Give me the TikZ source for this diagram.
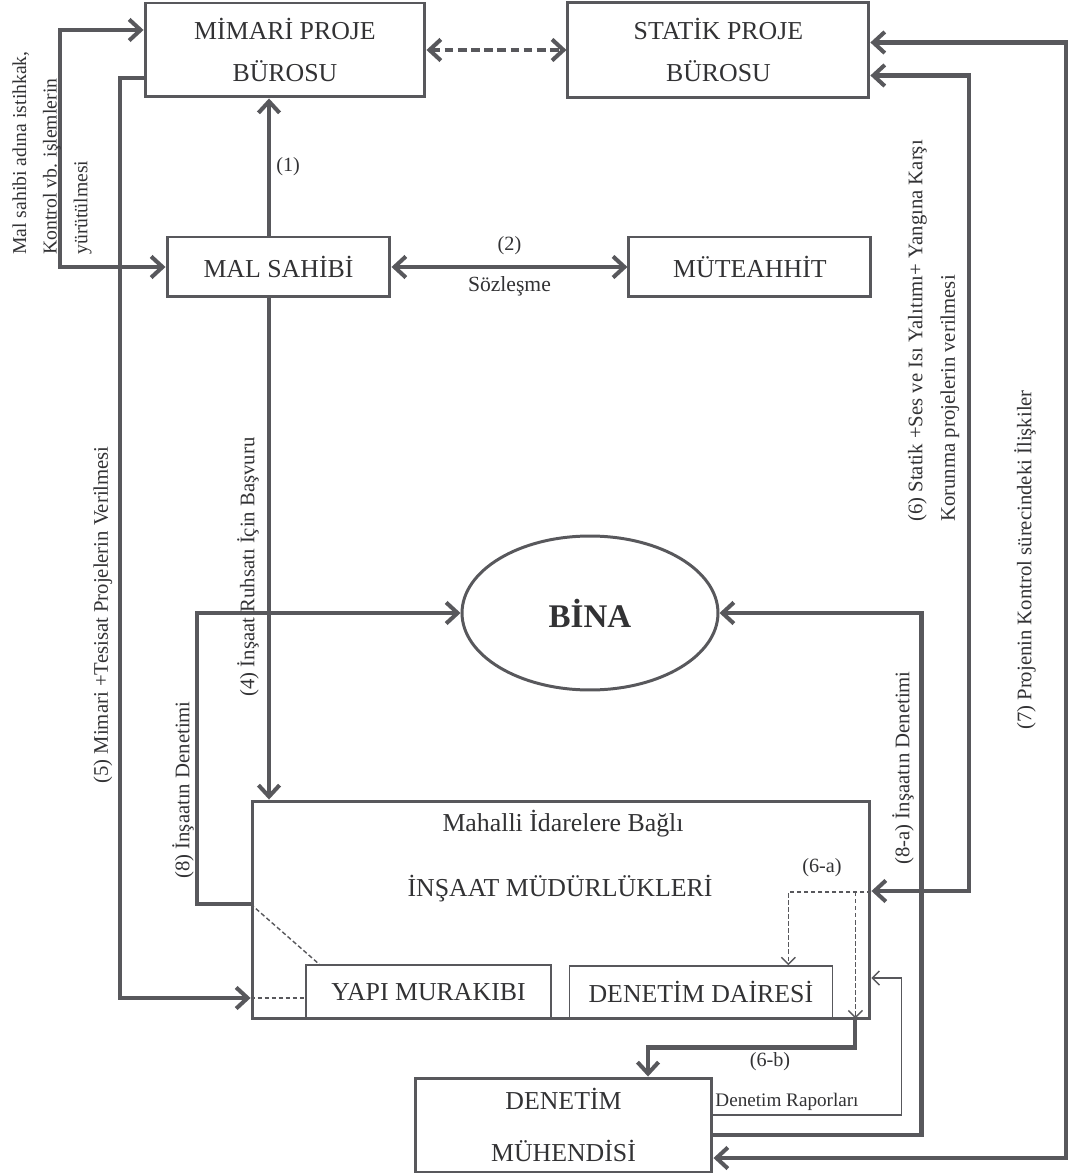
\documentclass[tikz,border=0pt]{standalone}
\usepackage{fontspec}
\setmainfont{Liberation Serif}
\definecolor{linegray}{RGB}{88,88,92}
\definecolor{textgray}{RGB}{50,50,52}
\usetikzlibrary{arrows.meta,positioning,calc,shapes.geometric}
\newcommand{\boxfont}{\fontsize{14.7pt}{23.5pt}\selectfont}
\newcommand{\lblfont}{\fontsize{11.8pt}{14pt}\selectfont}
\newcommand{\numfont}{\fontsize{11.5pt}{13pt}\selectfont}
\newcommand{\smallfont}{\fontsize{10.9pt}{13pt}\selectfont}

\begin{document}
\begin{tikzpicture}[x=0.02cm, y=-0.02cm,
      kutu/.style={draw=linegray, line width=1.7pt, align=center, font=\boxfont,
                   text=textgray, inner sep=0pt},
      ickutu/.style={draw=linegray, line width=0.8pt, align=center, font=\boxfont,
                     text=textgray, inner sep=0pt},
      yazi/.style={text=textgray, inner sep=0pt, align=center},
      vlbl/.style={rotate=90, font=\lblfont, text=textgray, inner sep=0pt},
      arr/.style={-{Straight Barb[length=6.5pt,width=12pt]}, line width=2.3pt, linegray},
      dblarr/.style={{Straight Barb[length=6.5pt,width=12pt]}-{Straight Barb[length=6.5pt,width=12pt]},
                     line width=2.3pt, linegray},
      dasharr/.style={dblarr, dash pattern=on 5pt off 2.5pt},
      thinarr/.style={-{Straight Barb[length=4pt,width=8pt]}, line width=0.8pt, linegray},
      thindash/.style={line width=0.8pt, linegray, dash pattern=on 2.5pt off 1.5pt},
      thindasharr/.style={thinarr, dash pattern=on 2.5pt off 1.5pt}
    ]
    \useasboundingbox (0,0) rectangle (1067,1175);
    \node[kutu, minimum width=5.6cm, minimum height=1.88cm] (mimari) at (285,50)
      {MİMARİ PROJE\\BÜROSU};
    \node[kutu, minimum width=6.02cm, minimum height=1.9cm, right=2.8cm of mimari] (statik)
      {STATİK PROJE\\BÜROSU};
    \node[kutu, minimum width=4.46cm, minimum height=1.2cm] (malsahibi) at (278.5,267)
      {MAL SAHİBİ};
    \node[kutu, minimum width=4.84cm, minimum height=1.2cm, right=4.72cm of malsahibi] (muteahhit)
      {MÜTEAHHİT};
    \node[kutu, ellipse, minimum width=5.12cm, minimum height=3.08cm,
          font=\fontsize{18.8pt}{22pt}\bfseries] (bina) at (590,613) {BİNA};
    \node[kutu, minimum width=12.36cm, minimum height=4.36cm] (mudur) at (561,910) {};
    \node[yazi, font=\boxfont] (mahalli) at ($(mudur.north)+(2,24)$) {Mahalli İdarelere Bağlı};
    \node[yazi, font=\boxfont] (insaat) at ($(mudur.north)+(-1,89)$) {İNŞAAT MÜDÜRLÜKLERİ};
    \node[ickutu, minimum width=4.9cm, minimum height=1.08cm] (yapi) at (428.5,992) {YAPI MURAKIBI};
    \node[ickutu, minimum width=5.26cm, minimum height=1.04cm, right=0.34cm of yapi] (daire)
      {DENETİM DAİRESİ};
    \node[kutu, minimum width=5.94cm, minimum height=1.88cm] (muhendis) at (563.5,1125)
      {DENETİM\\[6pt]MÜHENDİSİ};

    % ust kisim
    \coordinate (c1) at ($(malsahibi.north)+(-9.5,0)$);
    \draw[arr] (c1) -- (c1 |- mimari.south) node[midway, right=3pt, yazi, font=\numfont] (n1) {(1)};
    \draw[dasharr] (mimari.east) -- (mimari.east -| statik.west);
    \draw[dblarr] (malsahibi.east) -- (muteahhit.west)
      node[midway, above=6pt, yazi, font=\numfont] (n2) {(2)}
      node[midway, below=4pt, yazi, font=\fontsize{12.3pt}{14pt}\selectfont] (soz) {Sözleşme};
    \draw[dblarr] ($(mimari.west)+(0,-20)$) -- ++(-84,0) |- (malsahibi.west);
    \node[vlbl, anchor=west, align=left, font=\fontsize{11.2pt}{13.4pt}\selectfont] (lblmal) at (52,255)
      {Mal sahibi adına istihkak,\\[4pt]Kontrol vb. işlemlerin\\[4pt]yürütülmesi};

    % sol hatlar
    \draw[arr] ($(mimari.west)+(0,28)$) -- ++(-24,0) |- ($(mudur.west)+(0,88)$);
    \node[vlbl] (lbl5) at (103,615) {(5) Mimari +Tesisat Projelerin Verilmesi};
    \draw[thindash] ($(mudur.west)+(0,88)$) -- ($(yapi.west)+(0,6)$);
    \draw[thindash] ($(mudur.west)+(0,-6)$) -- ($(yapi.north west)+(14,0)$);
    \draw[arr] ($(mudur.west)+(0,-6)$) -- ++(-54,0) |- (bina.west);
    \node[vlbl] (lbl8) at (183,790) {(8) İnşaatın Denetimi};
    \coordinate (c4) at ($(malsahibi.south)+(-9.5,0)$);
    \draw[arr] (c4) -- (c4 |- mudur.north);
    \node[vlbl] (lbl4) at (248,567) {(4) İnşaat Ruhsatı İçin Başvuru};

    % sag hatlar
    \draw[dblarr] ($(statik.east)+(0,25.5)$) -- ++(99,0) |- ($(mudur.east)+(0,-19)$);
    \node[vlbl, anchor=west, align=left] (lbl6) at (933.5,522)
      {(6) Statik +Ses ve Isı Yalıtımı+ Yangına Karşı\\[4.5pt]Korunma projelerin verilmesi};
    \draw[dblarr] ($(statik.east)+(0,-7.5)$) -- ++(196,0) |- ($(muhendis.east)+(0,33)$);
    \node[vlbl] (lbl7) at (1025,560) {(7) Projenin Kontrol sürecindeki İlişkiler};
    \draw[arr] ($(muhendis.east)+(0,10)$) -- ++(208,0) |- (bina.east);
    \node[vlbl] (lbl8a) at (903,768) {(8-a) İnşaatın Denetimi};
    \draw[thinarr] ($(muhendis.east)+(0,-10)$) -- ++(188,0) |- ($(mudur.east)+(0,68)$);
    \node[yazi, font=\smallfont] (rapor) at (787,1102) {Denetim Raporları};

    % denetim dairesi ve muhendis
    \draw[thindasharr] ($(mudur.east)+(0,-18)$) -| ($(daire.north)+(87.5,0)$);
    \draw[thindasharr] ($(mudur.east)+(-16,-18)$) -- ($(mudur.south east)+(-16,-2)$);
    \node[yazi, font=\numfont] (n6a) at (822,868) {(6-a)};
    \draw[arr] ($(mudur.south east)+(-16,0)$) -- ++(0,27) -| ($(muhendis.north)+(84.5,0)$);
    \node[yazi, font=\numfont] (n6b) at (770,1062) {(6-b)};
  \end{tikzpicture}
\end{document}
